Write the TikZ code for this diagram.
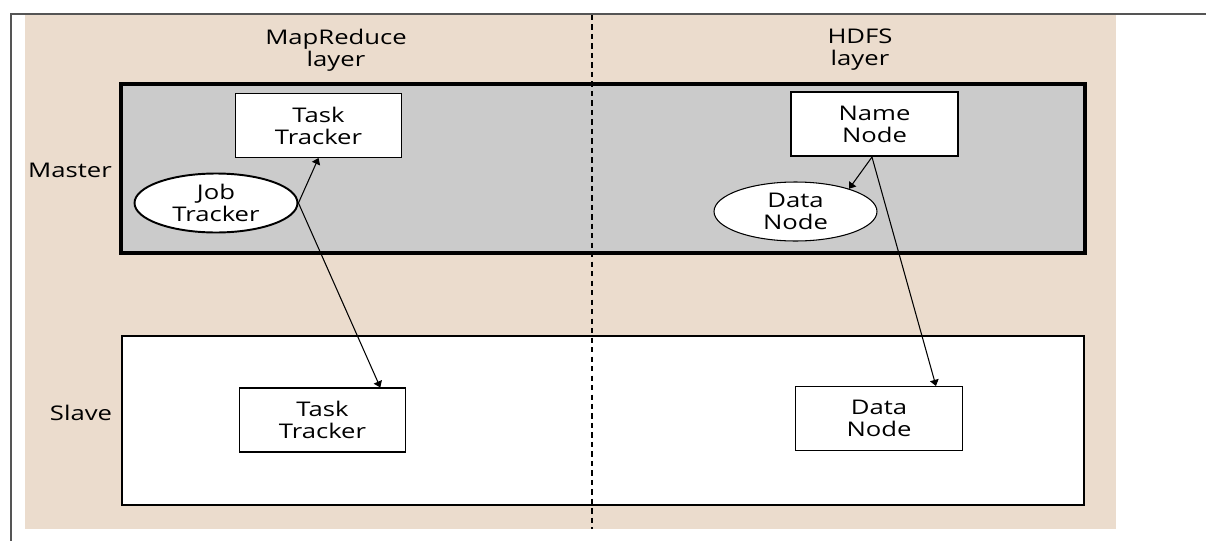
\documentclass[tikz,border=0pt]{standalone}
\usepackage{fontspec}
\setmainfont{Open Sans}[FakeStretch=1.27]
\usepackage{xcolor}
\usetikzlibrary{shapes.geometric,arrows.meta,calc}
\definecolor{sand}{HTML}{EBDCCD}
\definecolor{mastergray}{HTML}{CBCBCB}
\definecolor{frameline}{HTML}{555555}

\begin{document}
\begin{tikzpicture}[x=0.02cm, y=-0.02cm,
	every node/.style={align=center},
	box/.style={draw, fill=white, line width=.6pt, minimum width=3.33cm, minimum height=1.28cm, inner sep=0pt},
	oval/.style={ellipse, draw, fill=white, line width=.6pt, minimum width=3.26cm, minimum height=1.18cm, inner sep=0pt},
	link/.style={-{Triangle[width=5pt,length=3.5pt]}, line width=.6pt}]
	\fontsize{11.5}{12.5}\selectfont
	\useasboundingbox (0,0) rectangle (1206,541);
	\draw[frameline, line width=1.1pt] (1206,14) -- (11,14) -- (11,541);
	\fill[sand] (25,15) rectangle (1116,529);
	\draw[line width=1.8pt, fill=mastergray] (121,84) rectangle (1085,253);
	\draw[line width=.6pt, fill=white] (122,336) rectangle (1084,505);
	\draw[line width=1.1pt, dash pattern=on 3pt off 2.4pt] (592,15) -- (592,529);
	\node (mr) at (336,50) {MapReduce\\layer};
	\node (hdfs) at (860,50) {HDFS\\layer};
	\node (master) at (70,170) {Master};
	\node (slave) at (81,413) {Slave};
	\node[box] (mtt) at (318.5,125.5) {Task\\Tracker};
	\node[oval, line width=1.1pt] (jt) at (216,203) {Job\\Tracker};
	\node[box, line width=1.2pt] (nn) at (874.5,124) {Name\\Node};
	\node[oval] (mdn) at (795.5,211.5) {Data\\Node};
	\node[box] (stt) at (322.5,420) {Task\\Tracker};
	\node[box] (sdn) at (879,418.5) {Data\\Node};
	\coordinate (nnfoot) at ($(nn.south west)!.485!(nn.south east)$);
	\draw[link] (jt.east) -- (mtt.south);
	\draw[link] (jt.east) -- ($(stt.north west)!.845!(stt.north east)$);
	\draw[link] (nnfoot) -- (mdn.23);
	\draw[link] (nnfoot) -- ($(sdn.north west)!.84!(sdn.north east)$);
\end{tikzpicture}
\end{document}
